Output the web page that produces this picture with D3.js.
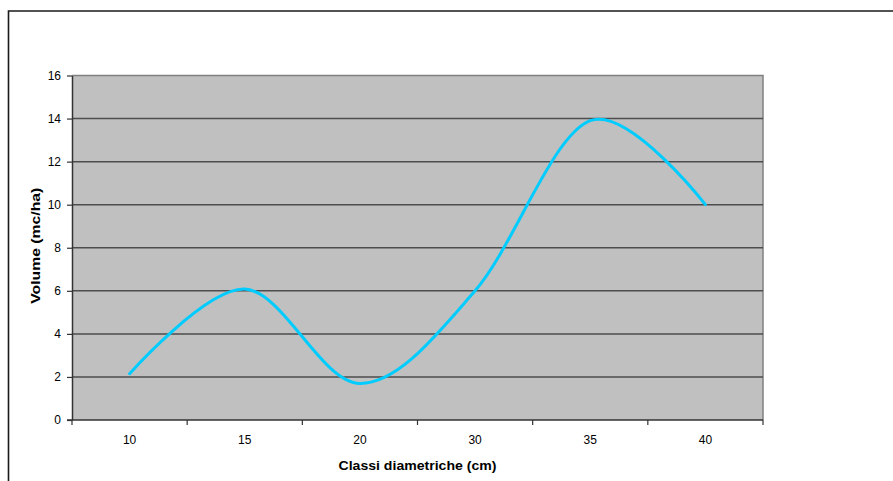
<!DOCTYPE html>
<html>
<head>
<meta charset="utf-8">
<script src="https://cdn.jsdelivr.net/npm/d3@7"></script>
<style>
  html, body { margin: 0; padding: 0; background: #fff; }
  svg { display: block; font-family: Arial, "Liberation Sans", sans-serif; }
</style>
</head>
<body>
<svg id="chart" width="893" height="481"></svg>
<script>
// Diameter classes (cm) and stand volume per hectare
const categories = ["10", "15", "20", "30", "35", "40"];
const volumes = [2.15, 6.08, 1.7, 6.0, 13.9, 10.0];
const yTicks = [0, 2, 4, 6, 8, 10, 12, 14, 16];

const svg = d3.select("#chart");
const W = 893, H = 481;
const plot = { left: 72, top: 75.5, right: 763, bottom: 420 };

// outer chart frame (runs off the right and bottom edges)
svg.append("path")
  .attr("d", `M8.5,${H + 5} V11 H${W + 5}`)
  .attr("fill", "none")
  .attr("stroke", "#1a1a1a")
  .attr("stroke-width", 1.6);

const x = d3.scaleBand()
  .domain(categories)
  .range([plot.left, plot.right])
  .padding(0);

const y = d3.scaleLinear()
  .domain([0, 16])
  .range([plot.bottom, plot.top]);

// plot background
svg.append("rect")
  .attr("x", plot.left)
  .attr("y", plot.top)
  .attr("width", plot.right - plot.left)
  .attr("height", plot.bottom - plot.top)
  .attr("fill", "#c0c0c0");

// plot border (top and right)
svg.append("path")
  .attr("d", `M${plot.left},${plot.top} H${plot.right} V${plot.bottom}`)
  .attr("fill", "none")
  .attr("stroke", "#808080")
  .attr("stroke-width", 1.5);

// horizontal gridlines
svg.append("g")
  .selectAll("line")
  .data(yTicks.filter(d => d > 0 && d < 16))
  .join("line")
  .attr("x1", plot.left)
  .attr("x2", plot.right)
  .attr("y1", d => y(d))
  .attr("y2", d => y(d))
  .attr("stroke", "#4d4d4d")
  .attr("stroke-width", 1.5);

// y axis
const yAxis = svg.append("g")
  .attr("transform", `translate(${plot.left},0)`)
  .call(d3.axisLeft(y).tickValues(yTicks).tickSize(5).tickPadding(6).tickSizeOuter(0));
yAxis.select(".domain").attr("stroke", "#333").attr("stroke-width", 1.5);
yAxis.selectAll(".tick line").attr("stroke", "#333").attr("stroke-width", 1.2);
yAxis.selectAll(".tick text")
  .attr("font-size", 12)
  .attr("font-family", "Arial, 'Liberation Sans', sans-serif")
  .attr("fill", "#000");

// x axis: ticks sit at the category boundaries
const bounds = categories.map(c => x(c)).concat([plot.right]);
const xg = svg.append("g");
xg.append("line")
  .attr("x1", plot.left - 5)
  .attr("x2", plot.right)
  .attr("y1", plot.bottom)
  .attr("y2", plot.bottom)
  .attr("stroke", "#333")
  .attr("stroke-width", 1.5);
xg.selectAll("line.tk")
  .data(bounds)
  .join("line")
  .attr("class", "tk")
  .attr("x1", d => d)
  .attr("x2", d => d)
  .attr("y1", plot.bottom)
  .attr("y2", plot.bottom + 5)
  .attr("stroke", "#333")
  .attr("stroke-width", 1.2);
xg.selectAll("text")
  .data(categories)
  .join("text")
  .attr("x", d => x(d) + x.bandwidth() / 2)
  .attr("y", 443.5)
  .attr("text-anchor", "middle")
  .attr("font-size", 12)
  .attr("fill", "#000")
  .text(d => d);

// smoothed volume line
const line = d3.line()
  .x((d, i) => x(categories[i]) + x.bandwidth() / 2)
  .y(d => y(d))
  .curve(d3.curveCardinal.tension(0));

svg.append("path")
  .datum(volumes)
  .attr("d", line)
  .attr("fill", "none")
  .attr("stroke", "#00ccff")
  .attr("stroke-width", 3)
  .attr("stroke-linejoin", "round")
  .attr("stroke-linecap", "round");

// axis titles
svg.append("text")
  .attr("x", (plot.left + plot.right) / 2)
  .attr("y", 470)
  .attr("text-anchor", "middle")
  .attr("font-size", 13.5)
  .attr("font-weight", "bold")
  .attr("fill", "#000")
  .attr("textLength", 158)
  .attr("lengthAdjust", "spacingAndGlyphs")
  .text("Classi diametriche (cm)");

svg.append("text")
  .attr("transform", `translate(39.5,${(plot.top + plot.bottom) / 2 - 2}) rotate(-90)`)
  .attr("text-anchor", "middle")
  .attr("font-size", 13.5)
  .attr("font-weight", "bold")
  .attr("fill", "#000")
  .attr("textLength", 116)
  .attr("lengthAdjust", "spacingAndGlyphs")
  .text("Volume (mc/ha)");
</script>
</body>
</html>
